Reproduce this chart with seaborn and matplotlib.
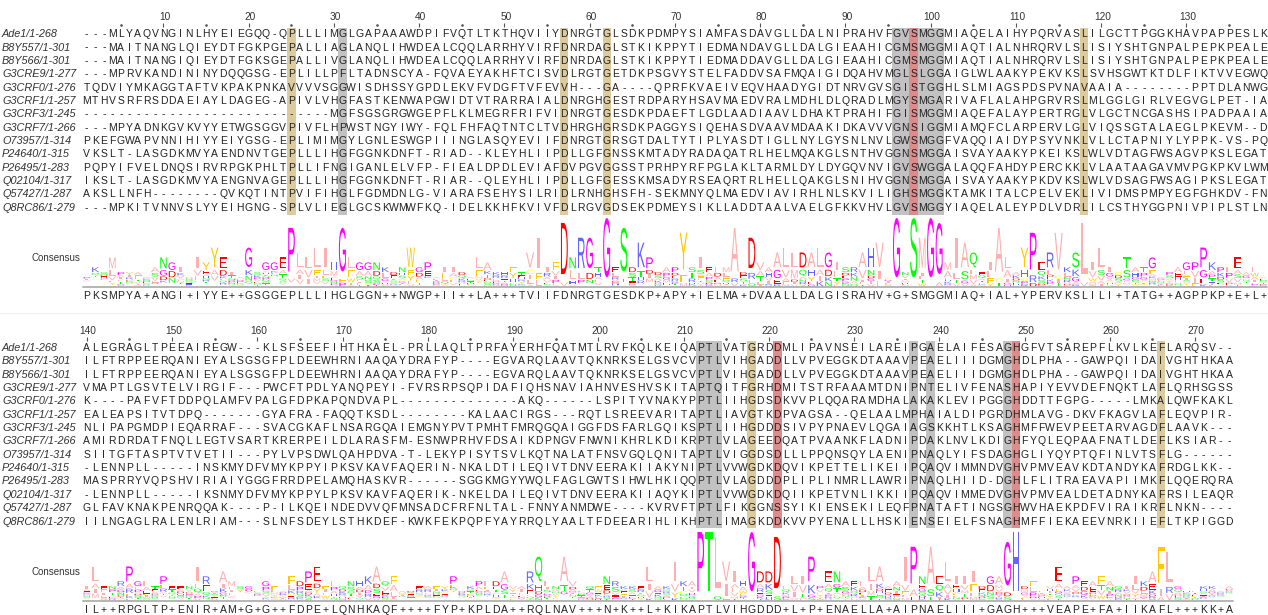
import numpy as np
import matplotlib
matplotlib.use("Agg")
import matplotlib.pyplot as plt
import seaborn as sns
from collections import Counter
from matplotlib.colors import ListedColormap
from matplotlib.textpath import TextPath, text_to_path
from matplotlib.font_manager import FontProperties
from matplotlib.patches import PathPatch
from matplotlib.transforms import Affine2D, blended_transform_factory

# ==========================================
# Alignment data (two wrapped blocks: 1-139, 140-274)
# ==========================================
names = ["Ade1/1-268", "B8Y557/1-301", "B8Y566/1-301", "G3CRE9/1-277", "G3CRF0/1-276",
         "G3CRF1/1-257", "G3CRF3/1-245", "G3CRF7/1-266", "O73957/1-314", "P24640/1-315",
         "P26495/1-283", "Q02104/1-317", "Q57427/1-287", "Q8RC86/1-279"]

block1 = [
    "---MLYAQVNGINLHYEIEGQQ-QPLLLIMGLGAPAAAWDPIFVQTLTKTHQVIIYDNRGTGLSDKPDMPYSIAMFASDAVGLLDALNIPRAHVFGVSMGGMIAQELAIHYPQRVASLILGCTTPGGKHAVPAPPESLK",
    "---MAITNANGLQIEYDTFGKPGEPALLIAGLANQLIHWDEALCQQLARRHYVIRFDNRDAGLSTKIKPPYTIEDMANDAVGLLDALGIEAAHICGMSMGGMIAQTIALNHRQRVLSLISIYSHTGNPALPEPKPEALE",
    "---MAITNANGIQIEYDTFGKSGEPALLIVGLANQLIHWDEALCQQLARRHYVIRFDNRDAGLSTKIKPPYTIEDMADDAVGLLDALGIEAAHICGMSMGGMIAQTIALNHRQRVLSLISIYSHTGNPALPEPKPEALE",
    "---MPRVKANDININYDQQGSG-EPLILLPFLTADNSCYA-FQVAEYAKHFTCISVDLRGTGETDKPSGVYSTELFADDVSAFMQAIGIDQAHVMGLSLGGAIGLWLAAKYPEKVKSLSVHSGWTKTDLFIKTVVEGWQ",
    "TQDVIYMKAGGTAFTVKPAKPNKAVVVVSGGWISDHSSYGPDLEKVFVDGFTVFEVVH---GA----QPRFKVAEIVEQVHAADYGIDTNRVGVSGISTGGHLSLMIAGSPDSPVNAVAAIA--------PPTDLANWG",
    "MTHVSRFRSDDAEIAYLDAGEG-APIVLVHGFASTKENWAPGWIDTVTRARRAIALDNRGHGESTRDPARYHSAVMAEDVRALMDHLDLQRADLMGYSMGARIVAFLALAHPGRVRSLMLGGLGIRLVEGVGLPET-IA",
    "-----------------------------MGFSGSGRGWGEPFLKLMEGRFRIFVIDNRGTGESDKPDAEFTLGDLAADIAAVLDHAKTPRAHIFGISMGGMIAQEFALAYPERTRGLVLGCTNCGASHSIPADPAAIA",
    "---MPYADNKGVKVYYETWGSGGVPIVFLHPWSTNGYIWY-FQLFHFAQTNTCLTVDHRGHGRSDKPAGGYSIQEHASDVAAVMDAAKIDKAVVVGNSIGGMIAMQFCLARPERVLGLVIQSSGTALAEGLPKEVM--D",
    "PKEFGWAPVNNIHIYYEIYGSG-EPLIMIMGYLGNLESWGPIIINGLASQYEVIIFDNRGTGRSGTDALTYTIPLYASDTIGLLNYLGYSNLNVLGWSMGGFVAQQIAIDYPSYVNKLVLLCTAPNIYLYPPK-VS-PQ",
    "VKSLT-LASGDKMVYAENDNVTGEPLLLIHGFGGNKDNFT-RIAD--KLEYHLIIPDLLGFGNSSKMTADYRADAQATRLHELMQAKGLSNTHVGGNSMGGAISVAYAAKYPKEIKSLWLVDTAGFWSAGVPKSLEGAT",
    "PQPYIFVELDNQSIRVRPGKPHLTPLLIFNGIGANLELVFP-FIEALDPDLEVIAFDVPGVGGSSTPRHPYRFPGLAKLTARMLDYLDYGQVNVIGVSWGGALAQQFAHDYPERCKKLVLAATAAGAVMVPGKPKVLWM",
    "IKSLT-LASGDKMVYAENGNVAGEPLLLIHGFGGNKDNFT-RIAR--QLEYHLIIPDLLGFGESSKMSADYRSEAQRTRLHELLQAKGLSNIHVGGNSMGGAISVAYAAKYPKDVKSLWLVDSAGFWSAGIPKSLEGAT",
    "AKSLLNFH--------QVKQTINTPVIFIHGLFGDMDNLG-VIARAFSEHYSILRIDLRNHGHSFH-SEKMNYQLMAEDVIAVIRHLNLSKVILIGHSMGGKTAMKITALCPELVEKLIVIDMSPMPYEGFGHKDV-FN",
    "---MPKITVNNVSLYYEIHGNG-SPLVLIEGLGCSKWMWFKQ-IDELKKHFKVIVFDLRGVGDSEKPDMEYSIKLLADDTAALVAELGFKKVHVLGVSMGGYIAQELALEYPDLVDRLILCSTHYGGPNIVPIPLSTLN",
]

block2 = [
    "ALEGRAGLTPEEAIREGW---KLSFSEEFIHTHKAEL-PRLLAQLTPRFAYERHFQATMTLRVFKQLKEIQAPTLVATGRDDMLIPAVNSEILAREIPGAELAIFESAGHGFVTSAREPFLKVLKEFLARQSV--",
    "ILFTRPPEERQANIEYALSGSGFPLDEEWHRNIAAQAYDRAFYP----EGVARQLAAVTQKNRKSELGSVCVPTLVIHGADDLLVPVEGGKDTAAAVPEAELIIIDGMGHDLPHA--GAWPQIIDAIVGHTHKAA",
    "ILFTRPPEERQANIEYALSGSGFPLDEEWHRNIAAQAYDRAFYP----EGVARQLAAVTQKNRKSELGSVCVPTLVIHGADDLLVPVEGGKDTAAAVPEAELIIIDGMGHDLPHA--GAWPQIIDAIVGHTHKAA",
    "VMAPTLGSVTELVIRGIF---PWCFTPDLYANQPEYI-FVRSRPSQPIDAFIQHSNAVIAHNVESHVSKITAPTQITFGRHDMITSTRFAAAMTDNIPNTELIVFENASHAPIYEVVDEFNQKTLAFLQRHSGSS",
    "K----PAFVFTDDPQLAMFVPALGFDPKAPQNDVAPL--------------AKQ------LSPITYVNAKYPPTLIIHGDSDKVVPLQQARAMDHALAKAKLEVIPGGGHDDTTFGPG-----LMKALQWFKAKL",
    "EALEAPSITVTDPQ-------GYAFRA-FAQQTKSDL--------KALAACIRGS---RQTLSREEVARITAPTLIAVGTKDPVAGSA--QELAALMPHAIALDIPGRDHMLAVG-DKVFKAGVLAFLEQVPIR-",
    "NLIPAPGMDPIEQARRAF---SVACGKAFLNSARGQAIEMGNYPVTPMHTFMRQGQAIGGFDSFARLGQIKSPTLIIHGDDDSIVPYPNAEVLQGAIAGSKKHTLKSAGHMFFWEVPEETARVAGDFLAAVK---",
    "AMIRDRDATFNQLLEGTVSARTKRERPEILDLARASFM-ESNWPRHVFDSAIKDPNGVFNWNIKHRLKDIKRPTLVLAGEEDQATPVAANKFLADNIPDAKLNVLKDIGHFYQLEQPAAFNATLDEFLKSIAR--",
    "SIITGFTASPTVTVETII---PYLVPSDWLQAHPDVA-T-LEKYPISYTSVLKQTNALATFNSVGQLQNITAPTLVIGGDSDLLLPPQNSQYLAENIPNAQLYIFSDAGHGLIYQYPTQFINLVTSFLG------",
    "-LENNPLL-----INSKMYDFVMYKPPYIPKSVKAVFAQERIN-NKALDTILEQIVTDNVEERAKIIAKYNIPTLVVWGDKDQVIKPETTELIKEIIPQAQVIMMNDVGHVPMVEAVKDTANDYKAFRDGLKK--",
    "MASPRRYVQPSHVIRIAIYGGGFRRDPELAMQHASKVR------SGGKMGYYWQLFAGLGWTSIHWLHKIQQPTLVLAGDDDPLIPLINMRLLAWRIPNAQLHIID-DGHLFLITRAEAVAPIIMKFLQQERQRA",
    "-LENNPLL-----IKSNMYDFVMYKPPYLPKSVKAVFAQERIK-NKELDAILEQIVTDNVEERAKIIAQYKIPTLVVWGDKDQIIKPETVNLIKKIIPQAQVIMMEDVGHVPMVEALDETADNYKAFRSILEAQR",
    "GLFAVKNAKPENRQQAK----P-ILKQEINDEDVVQFMNSADCFRFNLTAL-FNNYANMDWE----KVRVFTPTLFIKGGNSSYIKIENSEKILEQFPNATAFTINGSGHWVHAEKPDFVIRAIKRFLNKN----",
    "IILNGAGLRALENLRIAM---SLNFSDEYLSTHKDEF-KWKFEKPQPFYAYRRQLYAALTFDEEARIHLIKHPTLIMAGKDDKVVPYENALLLHSKIENSEIELFSNAGHMFFIEKAEEVNRKIIEFLTKPIGGD",
]

consensus1 = "PKSMPYA+ANGI+IYYE++GSGGEPLLLIHGLGGN++NWGP+II++LA+++TVIIFDNRGTGESDKP+APY+IELMA+DVAALLDALGISRAHV+G+SMGGMIAQ+IAL+YPERVKSLILI+TATG++AGPPKP+E+L+"
consensus2 = "IL++RPGLTP+ENIR+AM+G+G++FDPE+LQNHKAQF++++FYP+KPLDA++RQLNAV+++N+K++L+KIKAPTLVIHGDDD+L+P+ENAELLA+AIPNAELIII+GAGH+++VEAPE+FA+IIKAFL+++KK+A"

# highlighted alignment columns (1-based)
tan_cols = [25, 57, 62, 118, 218, 266]
grey_cols = [31, 96, 97, 99, 100, 101, 212, 213, 214, 237, 239, 248]
red_cols = [98, 221, 249]

seqs = [a + b for a, b in zip(block1, block2)]
consensus = consensus1 + consensus2
lens = sorted(set(len(s) for s in seqs) | {len(consensus)})
if len(lens) != 1:
    raise ValueError(f"length mismatch: {[len(s) for s in block1]} {[len(s) for s in block2]} {len(consensus1)} {len(consensus2)}")

# Zappo colours used by the consensus logo
zappo = {}
for aa in "AILMV": zappo[aa] = "#ffafaf"
for aa in "RHK": zappo[aa] = "#6464ff"
for aa in "DE": zappo[aa] = "#ff0000"
for aa in "NQST": zappo[aa] = "#00ff00"
for aa in "FWY": zappo[aa] = "#ffc800"
for aa in "PG": zappo[aa] = "#ff00ff"
zappo["C"] = "#ffff00"

# ==========================================
# Layout
# ==========================================
sns.set_style("white")
plt.rcParams["font.family"] = ["Liberation Sans", "DejaVu Sans"]

W, H = 1268, 615
fig = plt.figure(figsize=(W / 100, H / 100), dpi=100)

cw, rh = 8.525, 13.35     # cell width / row height in px
left = 82.5
text_col = "#222222"
hl_cmap = ListedColormap(["#ffffff", "#dccb9c", "#c2c2c2", "#dd8b8b"])

fp = FontProperties(family="Liberation Sans", size=10)
glyph_cache = {}


def fig_rect(x, y, w, h):
    return [x / W, 1 - (y + h) / H, w / W, h / H]


def glyph(ch):
    # outline, bbox and advance width of a logo letter
    if ch not in glyph_cache:
        p = TextPath((0, 0), ch, size=10, prop=fp)
        adv = text_to_path.get_text_width_height_descent(ch, fp, ismath=False)[0]
        glyph_cache[ch] = (p, p.get_extents(), adv)
    return glyph_cache[ch]


def draw_block(start, end, seq_top, logo_top):
    ncols = end - start + 1
    nseq = len(seqs)

    # --- sequence rows with column highlights ---
    ax = fig.add_axes(fig_rect(left, seq_top, ncols * cw, nseq * rh))
    letters = np.array([[s[k - 1] for k in range(start, end + 1)] for s in seqs])
    hl = np.zeros((nseq, ncols), dtype=int)
    for code, cols in [(1, tan_cols), (2, grey_cols), (3, red_cols)]:
        for k in cols:
            if start <= k <= end:
                hl[:, k - start] = code
    sns.heatmap(hl, cmap=hl_cmap, vmin=-0.5, vmax=3.5, cbar=False,
                annot=letters, fmt="", linewidths=0,
                annot_kws=dict(fontsize=7.5, color=text_col),
                xticklabels=False, yticklabels=False, ax=ax)

    trans = blended_transform_factory(fig.transFigure, ax.transData)
    for i, n in enumerate(names):
        ax.text(2 / W, i + 0.5, n, transform=trans, ha="left", va="center",
                style="italic", fontsize=7.8, color="#333333")

    # ruler
    tens, fives = [], []
    for k in range(start, end + 1):
        x = k - start + 0.5
        if k % 10 == 0:
            ax.text(x + 0.15, -0.8, str(k), ha="center", va="center",
                    fontsize=7.3, color="#333333", clip_on=False)
            tens.append(x)
        elif k % 5 == 0:
            fives.append(x)
    ax.plot(tens, [-0.2] * len(tens), ls="none", marker="|", ms=3, mew=0.8,
            color="#555555", clip_on=False)
    ax.plot(fives, [-0.2] * len(fives), ls="none", marker=".", ms=1.8,
            color="#555555", clip_on=False)

    # --- consensus logo (letters stacked by frequency, most common on top) ---
    lax = fig.add_axes(fig_rect(left, logo_top, ncols * cw, 69))
    lax.set_xlim(0, ncols)
    lax.set_ylim(0, 1)
    lax.axis("off")
    for k in range(start, end + 1):
        x = k - start
        counts = Counter(s[k - 1] for s in seqs if s[k - 1] != "-")
        if not counts:
            continue
        items = sorted(counts.items(), key=lambda t: (-t[1], t[0]))
        top = items[0][1] / nseq
        y = top
        for ch, n in items:
            h = top * n / nseq
            p, ext, adv = glyph(ch)
            gh = h * 0.86
            t = (Affine2D().translate(0, -ext.y0)
                 .scale(0.98 / adv, gh / ext.height)
                 .translate(x + 0.01, y - gh))
            lax.add_patch(PathPatch(t.transform_path(p), fc=zappo[ch], ec="none", lw=0))
            y -= h

    lax.axhline(0, color="#b0b0b0", lw=1.3, clip_on=False)
    for k in range(start, end + 1):
        lax.text(k - start + 0.5, -0.125, consensus[k - 1], ha="center", va="center",
                 fontsize=7.5, color=text_col, clip_on=False)
    lax.text(-0.2, 0.42, "Consensus", ha="right", va="center", fontsize=7,
             color="#333333", clip_on=False)


draw_block(1, 139, 27.6, 218)
draw_block(140, 274, 341.3, 532)

fig.add_artist(plt.Line2D([0, 1], [1 - 313 / H] * 2, transform=fig.transFigure,
                          color="#f2f2f2", lw=1))

fig.savefig("out.png", dpi=100)
